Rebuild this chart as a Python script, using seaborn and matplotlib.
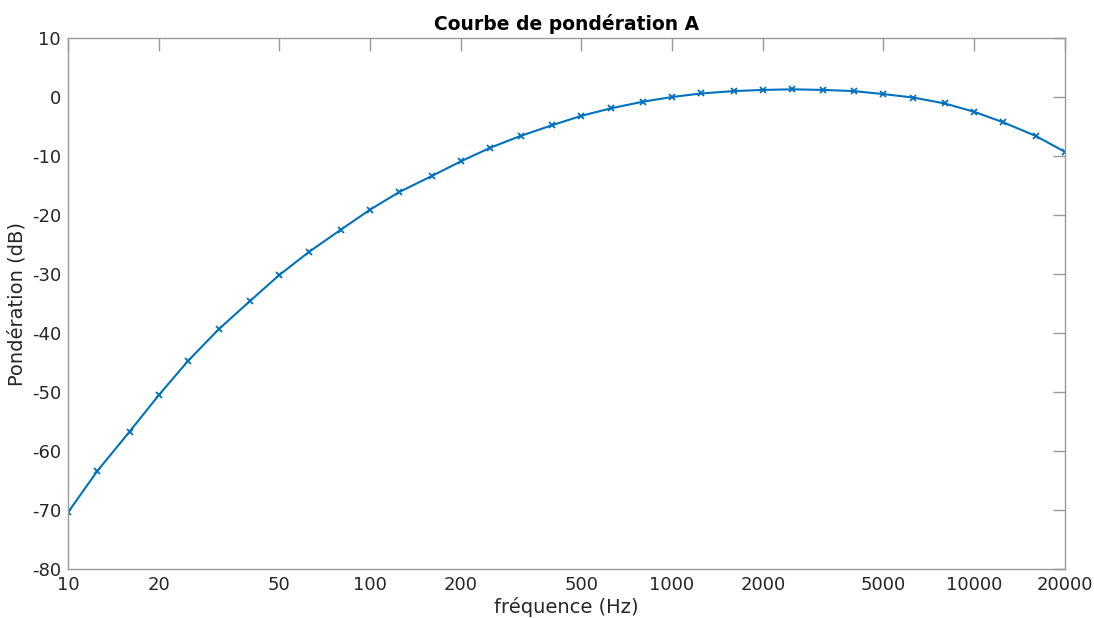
import numpy as np
import matplotlib
matplotlib.use("Agg")
import matplotlib.pyplot as plt
import seaborn as sns
from matplotlib.ticker import FixedLocator, NullLocator

# frequences tiers d'octave et ponderation A (dB)
freqs = [10, 12.5, 16, 20, 25, 31.5, 40, 50, 63, 80, 100, 125, 160, 200, 250,
         315, 400, 500, 630, 800, 1000, 1250, 1600, 2000, 2500, 3150, 4000,
         5000, 6300, 8000, 10000, 12500, 16000, 20000]
weights = [-70.4, -63.4, -56.7, -50.5, -44.7, -39.4, -34.6, -30.2, -26.2, -22.5,
           -19.1, -16.1, -13.4, -10.9, -8.6, -6.6, -4.8, -3.2, -1.9, -0.8,
           0.0, 0.6, 1.0, 1.2, 1.3, 1.2, 1.0, 0.5, -0.1, -1.1,
           -2.5, -4.3, -6.6, -9.3]
xticks = [10, 20, 50, 100, 200, 500, 1000, 2000, 5000, 10000, 20000]
yticks = [-80, -70, -60, -50, -40, -30, -20, -10, 0, 10]

sns.set_theme(style="white")
plt.rcParams['font.family'] = ['DejaVu Sans']

fig = plt.figure(figsize=(10.94, 6.18), dpi=100)
ax = fig.add_axes([68 / 1094, 1 - 569 / 618, (1065 - 68) / 1094, (569 - 38) / 618])

sns.lineplot(x=freqs, y=weights, ax=ax, color="#0072BD", linewidth=1.5,
             marker="x", markersize=4.5, markeredgewidth=1.3,
             markeredgecolor="#0072BD")

ax.set_xscale("log")
ax.set_xlim(10, 20000)
ax.set_ylim(-80, 10)
ax.xaxis.set_major_locator(FixedLocator(xticks))
ax.xaxis.set_minor_locator(NullLocator())
ax.set_xticks(xticks)
ax.set_xticklabels([str(t) for t in xticks])
ax.set_yticks(yticks)
ax.set_yticklabels([str(t) for t in yticks])

for s in ax.spines.values():
    s.set_visible(True)
    s.set_color("#999999")
    s.set_linewidth(1.0)
ax.tick_params(direction="in", length=9, width=1.0, color="#999999",
               top=True, right=True, labelsize=13, labelcolor="#262626", pad=5)

ax.set_title("Courbe de pondération A", fontsize=13.5, fontweight="bold",
             color="black", pad=6)
ax.set_xlabel("fréquence (Hz)", fontsize=14, color="#262626", labelpad=2)
ax.set_ylabel("Pondération (dB)", fontsize=14, color="#262626", labelpad=4)

fig.savefig("out.png", dpi=100, facecolor="white")
